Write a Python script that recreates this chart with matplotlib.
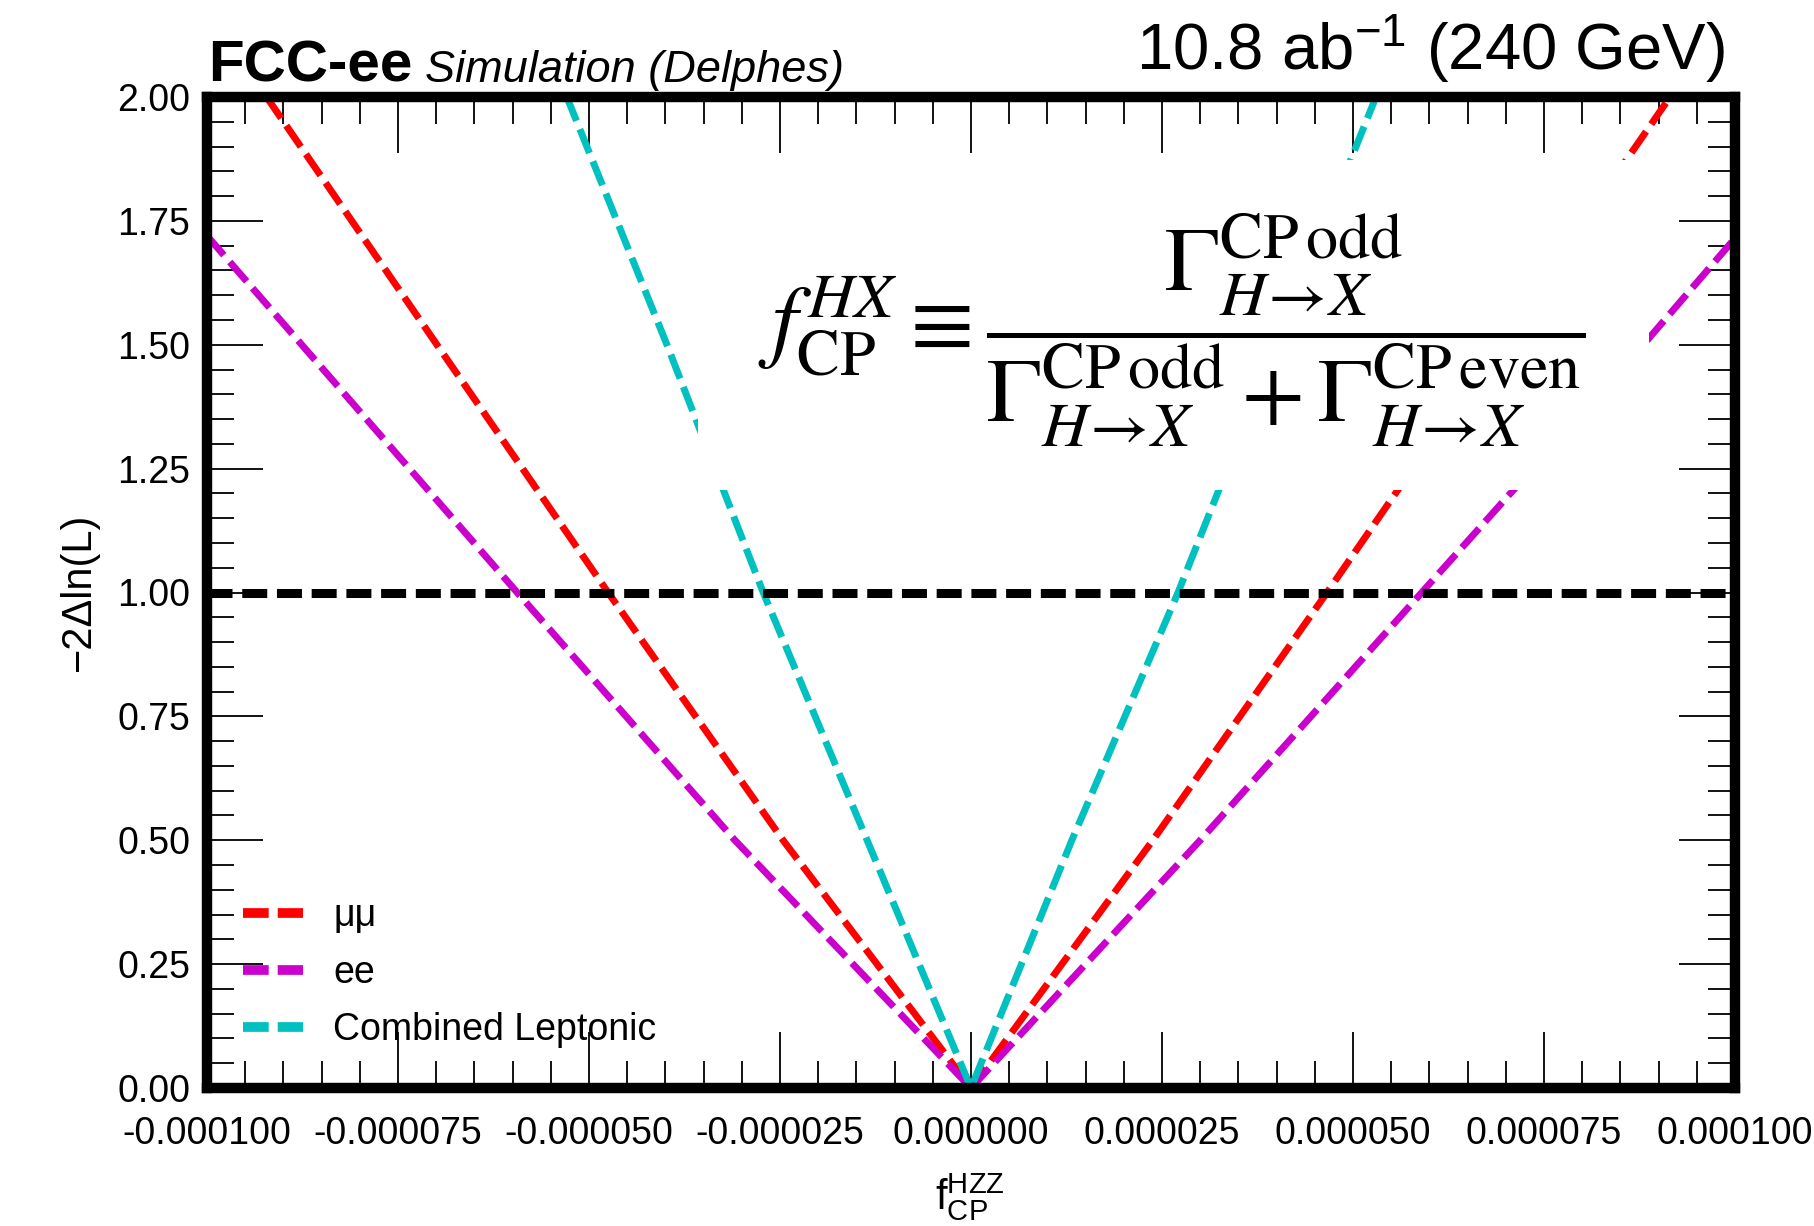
import matplotlib.pyplot as plt
from matplotlib.lines import Line2D
from matplotlib.patches import Rectangle
from matplotlib.ticker import FixedLocator, FixedFormatter, MultipleLocator

plt.rcParams['font.family'] = ['Liberation Sans', 'DejaVu Sans']
plt.rcParams['mathtext.fontset'] = 'custom'
plt.rcParams['mathtext.rm'] = 'Liberation Sans'
plt.rcParams['mathtext.it'] = 'Liberation Sans:italic'
plt.rcParams['mathtext.bf'] = 'Liberation Sans:bold'
plt.rcParams['lines.scale_dashes'] = False

# -2 delta lnL scans vs f_CP^HZZ
mumu_x = [-9.22e-5, -6.99e-5, -4.75e-5, -2.46e-5, 0.0, 2.38e-5, 4.66e-5, 6.90e-5, 9.15e-5]
mumu_y = [2.0, 1.5, 1.0, 0.5, 0.0, 0.5, 1.0, 1.5, 2.0]

ee_x = [-1.0e-4, -8.76e-5, -5.94e-5, -3.09e-5, 0.0, 3.00e-5, 5.90e-5, 8.80e-5, 1.0e-4]
ee_y = [1.72, 1.5, 1.0, 0.5, 0.0, 0.5, 1.0, 1.5, 1.715]

comb_x = [-5.29e-5, -3.98e-5, -2.72e-5, -1.36e-5, 0.0, 1.32e-5, 2.71e-5, 4.00e-5, 5.30e-5]
comb_y = [2.0, 1.5, 1.0, 0.5, 0.0, 0.5, 1.0, 1.5, 2.0]

labels = ['μμ', 'ee', 'Combined Leptonic']
colors = ['#ff0000', '#cc00cc', '#00c0c0']

x_ticks = [-1.0e-4, -7.5e-5, -5.0e-5, -2.5e-5, 0.0, 2.5e-5, 5.0e-5, 7.5e-5, 1.0e-4]
x_tick_labels = ['-0.000100', '-0.000075', '-0.000050', '-0.000025', '0.000000',
                 '0.000025', '0.000050', '0.000075', '0.000100']
y_ticks = [0.0, 0.25, 0.5, 0.75, 1.0, 1.25, 1.5, 1.75, 2.0]
y_tick_labels = ['0.00', '0.25', '0.50', '0.75', '1.00', '1.25', '1.50', '1.75', '2.00']

W, H = 1814, 1226
fig = plt.figure(figsize=(W / 100, H / 100), dpi=100)
ax = fig.add_axes([207 / W, 1 - 1088 / H, 1528 / W, 991 / H])

dash = (0, (18.5, 6.5))
for xs, ys, c in zip([mumu_x, ee_x, comb_x], [mumu_y, ee_y, comb_y], colors):
    ax.plot(xs, ys, color=c, lw=5, linestyle=dash, zorder=2)

ax.axhline(1.0, color='black', lw=6.5, linestyle=(0, (18, 7)), zorder=2.2)

ax.set_xlim(-1e-4, 1e-4)
ax.set_ylim(0, 2)

ax.xaxis.set_major_locator(FixedLocator(x_ticks))
ax.xaxis.set_major_formatter(FixedFormatter(x_tick_labels))
ax.yaxis.set_major_locator(FixedLocator(y_ticks))
ax.yaxis.set_major_formatter(FixedFormatter(y_tick_labels))
ax.xaxis.set_minor_locator(MultipleLocator(5e-6))
ax.yaxis.set_minor_locator(MultipleLocator(0.05))

ax.tick_params(which='both', direction='in', top=True, right=True,
               width=1.3, colors='black', labelsize=27)
ax.tick_params(which='major', length=40)
ax.tick_params(which='minor', length=19.5)
ax.tick_params(axis='x', which='major', pad=20)
ax.tick_params(axis='y', which='major', pad=12)

for sp in ax.spines.values():
    sp.set_linewidth(7.5)

# white panel holding the definition of f_CP
ax.add_patch(Rectangle((-3.57e-5, 1.207), 1.244e-4, 0.666, facecolor='white',
                       edgecolor='none', zorder=4))
formula = (r'$f^{HX}_{\mathrm{CP}} \equiv '
           r'\dfrac{\Gamma^{\mathrm{CP\,odd}}_{H\!\rightarrow\!X}}'
           r'{\Gamma^{\mathrm{CP\,odd}}_{H\!\rightarrow\!X} + '
           r'\Gamma^{\mathrm{CP\,even}}_{H\!\rightarrow\!X}}$')
fig.text(1172 / W, 1 - 330 / H, formula, fontsize=66, math_fontfamily='stix',
         ha='center', va='center', zorder=5)

handles = [Line2D([], [], color=c, lw=7, linestyle=dash) for c in colors]
ax.legend(handles, labels, loc='upper left', bbox_to_anchor=(243 / W, 1 - 898 / H),
          bbox_transform=fig.transFigure, frameon=False, fontsize=27,
          handlelength=1.6, handletextpad=0.8, labelspacing=0.56,
          borderpad=0, borderaxespad=0)

fig.text(79 / W, 1 - 592 / H, '−2Δln(L)', rotation=90, fontsize=30,
         ha='center', va='center')
fig.text(970 / W, 1 - 1197 / H, r'$\mathregular{f^{HZZ}_{CP}}$', fontsize=30,
         ha='center', va='center')

fig.text(208 / W, 1 - 82 / H, 'FCC-ee', fontsize=42, fontweight='bold',
         va='baseline')
fig.text(425 / W, 1 - 82 / H, 'Simulation (Delphes)', fontsize=32.5,
         fontstyle='italic', va='baseline')
fig.text(1725 / W, 1 - 70 / H, r'10.8 ab$^{-1}$ (240 GeV)', fontsize=47,
         ha='right', va='baseline')

fig.savefig('out.png', dpi=100)
